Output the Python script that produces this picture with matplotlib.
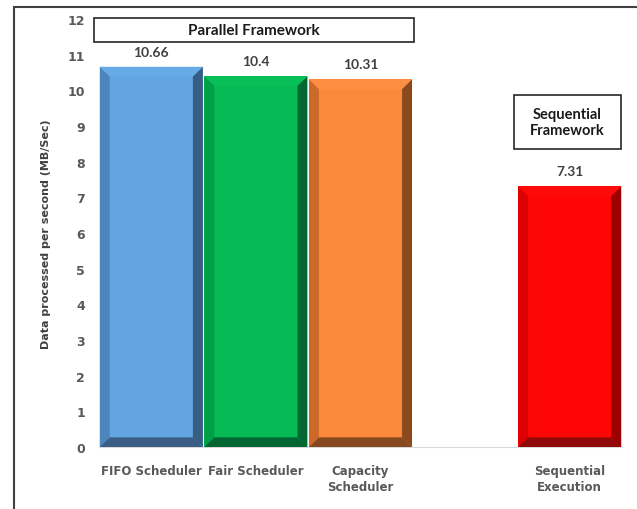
import matplotlib.pyplot as plt
from matplotlib.patches import Rectangle, Polygon
import numpy as np

# throughput per scheduler (MB/Sec); empty slot keeps the sequential bar apart
categories = ["FIFO Scheduler", "Fair Scheduler", "Capacity\nScheduler", "", "Sequential\nExecution"]
values = [10.66, 10.4, 10.31, None, 7.31]

# face, left, right, top, bottom shades for the bevelled bars
shades = [
    ("#62A5E1", "#4C86BC", "#375D82", "#67AAE8", "#3A5E84"),
    ("#06BA55", "#00A046", "#006830", "#08BF58", "#006530"),
    ("#FB893B", "#CD6A29", "#8A4A1E", "#FD8F42", "#86481F"),
    None,
    ("#FF0606", "#DD0000", "#9C0000", "#FF0A0A", "#900A0A"),
]

W, H = 637, 510
fig = plt.figure(figsize=(W / 100, H / 100), dpi=100)
ax = fig.add_axes([99 / W, 1 - 448 / H, (622 - 99) / W, (448 - 20) / H])

plt.rcParams["font.family"] = ["Lato", "DejaVu Sans"]
label_col = "#595959"

x = np.arange(len(categories))
bw = 0.985
bx = 0.095   # bevel width in x units
by = 0.27    # bevel height in y units

for xi, v, sh in zip(x, values, shades):
    if v is None:
        continue
    face, left, right, top, bottom = sh
    x0, x1 = xi - bw / 2, xi + bw / 2
    ax.bar(xi, v, width=bw, color=face, edgecolor="none", zorder=2)
    ax.add_patch(Polygon([(x0, 0), (x0 + bx, by), (x0 + bx, v - by), (x0, v)], color=left, lw=0, zorder=3))
    ax.add_patch(Polygon([(x1, 0), (x1 - bx, by), (x1 - bx, v - by), (x1, v)], color=right, lw=0, zorder=3))
    ax.add_patch(Polygon([(x0, v), (x0 + bx, v - by), (x1 - bx, v - by), (x1, v)], color=top, lw=0, zorder=3))
    ax.add_patch(Polygon([(x0, 0), (x0 + bx, by), (x1 - bx, by), (x1, 0)], color=bottom, lw=0, zorder=3))
    ax.annotate(f"{v:g}", (xi, v), xytext=(0, 11), textcoords="offset points",
                ha="center", va="center", fontsize=10, fontweight="bold", color="#404040")

ax.set_xlim(-0.5, len(categories) - 0.5)
ax.set_ylim(0, 12)
ax.set_yticks(range(0, 13))
ax.set_xticks(x)
ax.set_xticklabels(categories, fontsize=8.5, color=label_col, linespacing=1.3, fontweight="bold")
ax.tick_params(axis="y", length=0, pad=10, labelsize=9, labelcolor=label_col)
ax.tick_params(axis="x", length=0, pad=12)
for lab in ax.get_yticklabels():
    lab.set_fontweight("bold")
for s in ["top", "right", "left"]:
    ax.spines[s].set_visible(False)
ax.spines["bottom"].set_color("#D9D9D9")
ax.set_ylabel("Data processed per second (MB/Sec)", fontsize=8, fontweight="bold",
              color="#404040", labelpad=12)

# outer chart frame
fig.patches.append(Rectangle((14 / W, -0.05), 1.0, 1 - 8 / H + 0.05, transform=fig.transFigure,
                             fill=False, edgecolor="#404040", lw=1.5))

# framework captions
fig.patches.append(Rectangle((94 / W, 1 - 43 / H), (414 - 94) / W, 24 / H, transform=fig.transFigure,
                             fill=False, edgecolor="#262626", lw=1.2))
fig.text(254 / W, 1 - 31 / H, "Parallel Framework", ha="center", va="center",
         fontsize=11, fontweight="bold", color="#1A1A1A")
fig.patches.append(Rectangle((514 / W, 1 - 150 / H), (621 - 514) / W, 54 / H, transform=fig.transFigure,
                             fill=False, edgecolor="#262626", lw=1.2))
fig.text(567 / W, 1 - 123 / H, "Sequential\nFramework", ha="center", va="center",
         fontsize=10.5, fontweight="bold", color="#1A1A1A", linespacing=1.25)

fig.savefig("out.png", dpi=100)
